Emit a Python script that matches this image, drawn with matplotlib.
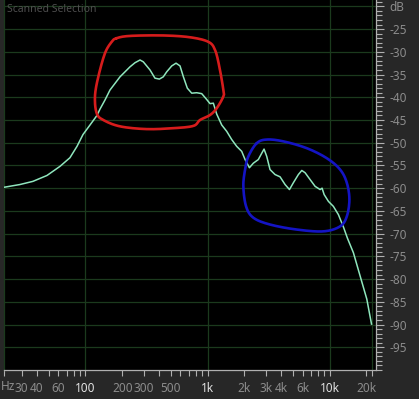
import numpy as np
import matplotlib
matplotlib.use("Agg")
import matplotlib.pyplot as plt
from matplotlib.ticker import FixedLocator, NullFormatter

# ---------------- data ----------------
freq_hz = [21.5, 29.0, 37.1, 48.4, 61.8, 74.6, 85.2, 95.4, 108.9, 124.2, 131.5,
           144.5, 158.8, 191.8, 231.7, 254.5, 279.8, 297.7, 338, 371, 403, 434,
           463, 509, 552, 595, 634, 683, 742, 815, 896, 985, 1048, 1116, 1189,
           1307, 1436, 1578, 1734, 1905, 2030, 2203, 2373, 2607, 2781, 2904,
           3054, 3250, 3573, 3928, 4318, 4690, 5050, 5550, 5920, 6300, 6920,
           7610, 8360, 8680, 9020, 9780, 10740, 11800, 12970, 14000, 15670,
           17780, 20180, 22050]
level_db = [-59.8, -59.2, -58.5, -57.2, -55.2, -53.3, -50.8, -48.2, -46.1, -44.0, -42.6,
            -40.6, -38.4, -35.5, -33.3, -32.4, -31.8, -32.2, -34.0, -35.8, -36.0, -35.5,
            -34.4, -33.1, -32.5, -33.1, -35.5, -38.0, -39.1, -39.0, -39.2, -40.5, -41.4,
            -41.3, -43.7, -46.1, -47.5, -49.3, -50.8, -51.9, -53.7, -55.5, -54.5, -53.7,
            -52.3, -51.4, -53.0, -55.9, -57.0, -57.5, -59.2, -60.3, -58.8, -57.0, -56.1,
            -56.6, -58.1, -59.6, -60.3, -60.0, -61.4, -62.9, -64.0, -65.8, -68.5, -71.0,
            -74.2, -79.3, -84.4, -89.9]

# hand-drawn annotation loops (freq Hz, dB)
red_f = [180, 232, 434, 719, 1015, 1152, 1250, 1348, 1348, 1190, 1048, 868, 765,
         524, 317, 192, 140, 123.5, 119.6, 127.3, 144.5, 164]
red_db = [-27.0, -26.5, -26.4, -26.8, -27.8, -29.6, -33.3, -38.4, -39.8, -42.4, -43.9,
          -45.0, -46.3, -46.8, -47.0, -46.4, -45.0, -43.5, -39.8, -35.5, -30.3, -27.8]
blue_f = [2531, 3056, 4181, 6503, 9484, 12190, 13840, 14530, 13840, 12190, 8893,
          5383, 3252, 2373, 2069, 1965, 2030, 2160]
blue_db = [-50.1, -49.3, -49.7, -51.2, -53.4, -55.9, -58.8, -62.5, -66.2, -68.4, -69.5,
           -69.1, -68.0, -66.5, -64.0, -59.6, -55.9, -53.0]

x_label_freqs = [21.5, 30, 40, 60, 100, 200, 300, 500, 1000, 2000, 3000, 4000, 6000, 10000, 20000]
x_labels = ["", "30", "40", "60", "100", "200", "300", "500", "1k", "2k", "3k", "4k", "6k", "10k", "20k"]
x_unit = "Hz"
x_bright = ["100", "1k", "10k"]
x_grid_freqs = [100, 1000, 10000, 22050]
nyquist_hz = 22050

y_label_vals = [-20, -25, -30, -35, -40, -45, -50, -55, -60, -65, -70, -75, -80, -85, -90, -95]
y_labels = ["dB", "-25", "-30", "-35", "-40", "-45", "-50", "-55", "-60", "-65", "-70",
            "-75", "-80", "-85", "-90", "-95"]

F_MIN, F_MAX = 21.5, 24000
DB_MIN, DB_MAX = -100, -18.6

# ---------------- style ----------------
plt.rcParams["font.family"] = ["Noto Sans", "DejaVu Sans"]
BG = "#272727"
GRID = "#1b3a1d"
CURVE = "#8fe6bd"
TXT = "#8c8c8c"
AXL = "#b0b0b0"

W, H = 419, 399
fig = plt.figure(figsize=(W / 100, H / 100), dpi=100, facecolor=BG)
ax = fig.add_axes([4 / W, 1 - 370 / H, 372 / W, 370 / H])
ax.set_facecolor("black")
ax.set_xscale("log")
ax.set_xlim(F_MIN, F_MAX)
ax.set_ylim(DB_MIN, DB_MAX)

for v in range(-95, -15, 5):
    ax.axhline(v, color=GRID, lw=0.9, zorder=1)
for f in x_grid_freqs:
    ax.axvline(f, color=GRID, lw=0.9, zorder=1)

ax.plot(freq_hz, level_db, color=CURVE, lw=1.1, zorder=3, solid_joinstyle="round")


def smooth_loop(fx, dy, n=12):
    lx = np.log10(np.asarray(fx, float))
    y = np.asarray(dy, float)
    m = len(lx)
    px, py = [], []
    for i in range(m):
        p0, p1, p2, p3 = [(lx[(i + k) % m], y[(i + k) % m]) for k in (-1, 0, 1, 2)]
        for t in np.linspace(0, 1, n, endpoint=False):
            t2, t3 = t * t, t * t * t
            px.append(0.5 * (2 * p1[0] + (-p0[0] + p2[0]) * t + (2 * p0[0] - 5 * p1[0] + 4 * p2[0] - p3[0]) * t2 + (-p0[0] + 3 * p1[0] - 3 * p2[0] + p3[0]) * t3))
            py.append(0.5 * (2 * p1[1] + (-p0[1] + p2[1]) * t + (2 * p0[1] - 5 * p1[1] + 4 * p2[1] - p3[1]) * t2 + (-p0[1] + 3 * p1[1] - 3 * p2[1] + p3[1]) * t3))
    px.append(px[0]); py.append(py[0])
    return 10 ** np.array(px), np.array(py)


rx, ry = smooth_loop(red_f, red_db)
bx, by = smooth_loop(blue_f, blue_db)
ax.plot(rx, ry, color="#d61c1c", lw=1.9, zorder=4, solid_capstyle="round")
ax.plot(bx, by, color="#1414c4", lw=1.9, zorder=4, solid_capstyle="round")

# spines
ax.spines["top"].set_visible(False)
ax.spines["left"].set_color(GRID)
ax.spines["left"].set_linewidth(0.9)
ax.spines["right"].set_color(AXL)
ax.spines["right"].set_linewidth(0.9)
ax.spines["bottom"].set_color(AXL)
ax.spines["bottom"].set_linewidth(0.9)

# y axis (right)
ax.yaxis.tick_right()
ax.set_yticks(y_label_vals)
ax.set_yticklabels(y_labels)
ax.yaxis.set_minor_locator(FixedLocator(list(range(-100, -18, 1))))
ax.tick_params(axis="y", which="major", length=6, width=0.8, color=AXL,
               labelcolor=TXT, labelsize=8.5, pad=3.5)
ax.tick_params(axis="y", which="minor", length=4, width=0.8, color=AXL)

# x axis
minor_f = [m * 10 ** e for e in range(1, 5) for m in range(1, 10)]
minor_f = [f for f in minor_f if F_MIN < f < F_MAX] + [nyquist_hz]
ax.set_xticks(x_label_freqs)
ax.set_xticklabels(x_labels)
ax.xaxis.set_minor_locator(FixedLocator(minor_f))
ax.xaxis.set_minor_formatter(NullFormatter())
ax.tick_params(axis="x", which="both", length=4, width=0.8, color=AXL,
               labelcolor=TXT, labelsize=8.5, pad=4.5)
for lab in ax.get_xticklabels():
    if lab.get_text() in x_bright:
        lab.set_color("#e2e2e2")
        lab.set_fontweight("bold")

# unit label at the left edge of the frequency axis
fig.text(1 / W, 1 - 386 / H, x_unit, color=TXT, fontsize=8.5, ha="left", va="center")

fig.text(7 / W, 1 - 10 / H, "Scanned Selection", color="#4e4e4e", fontsize=7.5,
         ha="left", va="center")

fig.savefig("out.png", dpi=100, facecolor=BG)
